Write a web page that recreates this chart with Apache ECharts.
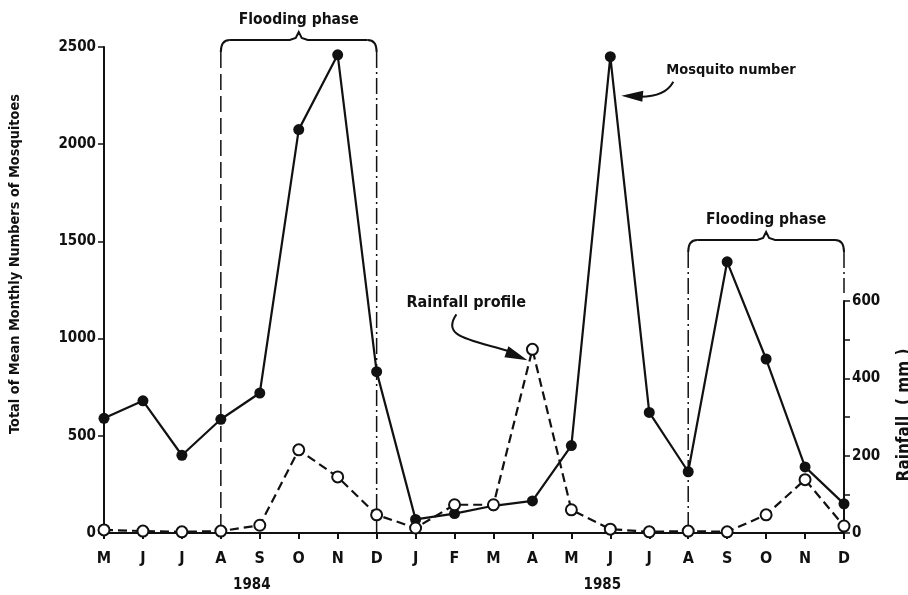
<!DOCTYPE html>
<html>
<head>
<meta charset="utf-8">
<script src="https://cdn.jsdelivr.net/npm/echarts@6/dist/echarts.min.js"></script>
<style>
  html, body { margin: 0; padding: 0; background: #fff; }
  #chart { width: 908px; height: 595px; }
</style>
</head>
<body>
<div id="chart"></div>
<script>
// months May 1984 .. Dec 1985
const months = ['M', 'J', 'J', 'A', 'S', 'O', 'N', 'D', 'J', 'F', 'M', 'A', 'M', 'J', 'J', 'A', 'S', 'O', 'N', 'D']
const mosquito = [590, 680, 400, 585, 720, 2075, 2460, 830, 70, 100, 140, 165, 450, 2450, 620, 315, 1395, 895, 340, 150]
const rainfall = [8, 5, 3, 5, 20, 215, 145, 47, 13, 73, 73, 475, 60, 10, 3, 5, 3, 47, 138, 18]
const years = [{ text: '1984', at: 4 }, { text: '1985', at: 13 }]
const floods = [[3, 7], [15, 19]]

const ink = '#111'
const font = '"DejaVu Sans Condensed", "DejaVu Sans", sans-serif'
const lbl = (size) => 'bold ' + size + 'px ' + font

const chart = echarts.init(document.getElementById('chart'))

const option = {
  animation: false,
  grid: [
    { left: 104, right: 64, top: 47, bottom: 62 },
    { left: 104, right: 64, top: 301, bottom: 62 }
  ],
  xAxis: [
    {
      type: 'category',
      gridIndex: 0,
      data: months,
      boundaryGap: false,
      axisLine: { lineStyle: { color: ink, width: 2 } },
      axisTick: { length: 6, lineStyle: { color: ink, width: 2 } },
      axisLabel: { color: ink, fontFamily: font, fontWeight: 'bold', fontSize: 16, margin: 18, interval: 0 }
    },
    { type: 'category', gridIndex: 1, data: months, boundaryGap: false, show: false }
  ],
  yAxis: [
    {
      type: 'value',
      gridIndex: 0,
      min: 0,
      max: 2500,
      interval: 500,
      axisLine: { show: true, lineStyle: { color: ink, width: 2 } },
      axisTick: { show: true, length: 6, lineStyle: { color: ink, width: 1.5 } },
      splitLine: { show: false },
      axisLabel: { color: ink, fontFamily: font, fontWeight: 'bold', fontSize: 15, margin: 8, formatter: v => String(v) }
    },
    {
      type: 'value',
      gridIndex: 1,
      position: 'right',
      min: 0,
      max: 600,
      interval: 200,
      axisLine: { show: true, lineStyle: { color: ink, width: 2 } },
      axisTick: { show: true, length: 6, lineStyle: { color: ink, width: 1.5 } },
      minorTick: { show: true, splitNumber: 2, length: 6, lineStyle: { color: ink, width: 1.5 } },
      splitLine: { show: false },
      axisLabel: { color: ink, fontFamily: font, fontWeight: 'bold', fontSize: 15, margin: 8, formatter: v => String(v) }
    }
  ],
  series: [
    {
      name: 'Mosquito number',
      type: 'line',
      xAxisIndex: 0,
      yAxisIndex: 0,
      data: mosquito,
      symbol: 'circle',
      symbolSize: 11,
      showAllSymbol: true,
      clip: false,
      lineStyle: { color: ink, width: 2.2 },
      itemStyle: { color: ink },
      z: 3
    },
    {
      name: 'Rainfall profile',
      type: 'line',
      xAxisIndex: 1,
      yAxisIndex: 1,
      data: rainfall,
      symbol: 'circle',
      symbolSize: 11,
      showAllSymbol: true,
      clip: false,
      lineStyle: { color: ink, width: 2.2, type: [9, 5] },
      itemStyle: { color: '#fff', borderColor: ink, borderWidth: 2 },
      z: 4
    }
  ]
}
chart.setOption(option)

// annotations placed from the axes' own scales
const px = i => chart.convertToPixel({ xAxisIndex: 0 }, i)
const py = v => chart.convertToPixel({ yAxisIndex: 0 }, v)
const pr = v => chart.convertToPixel({ yAxisIndex: 1 }, v)
const y0 = py(0)
const thin = { stroke: ink, lineWidth: 2, fill: null }
const g = []

function bracket(i1, i2, yb, leftDash, rightDash, rightEnd) {
  const x1 = px(i1), x2 = px(i2), xm = (x1 + x2) / 2
  g.push({ type: 'bezierCurve', shape: { x1: x1, y1: yb + 12, cpx1: x1, cpy1: yb, x2: x1 + 9, y2: yb }, style: thin })
  g.push({ type: 'bezierCurve', shape: { x1: x2 - 9, y1: yb, cpx1: x2, cpy1: yb, x2: x2, y2: yb + 12 }, style: thin })
  g.push({
    type: 'polyline',
    shape: { points: [[x1 + 9, yb], [xm - 9, yb], [xm - 3, yb - 2], [xm, yb - 8], [xm + 3, yb - 2], [xm + 9, yb], [x2 - 9, yb]] },
    style: thin
  })
  g.push({
    type: 'text', x: xm, y: yb - 20,
    style: { text: 'Flooding phase', fill: ink, font: lbl(15.5), textAlign: 'center', textVerticalAlign: 'middle' }
  })
  g.push({ type: 'line', shape: { x1: x1, y1: yb + 12, x2: x1, y2: y0 }, style: { stroke: ink, lineWidth: 1.5, lineDash: leftDash } })
  g.push({ type: 'line', shape: { x1: x2, y1: yb + 12, x2: x2, y2: rightEnd }, style: { stroke: ink, lineWidth: 1.5, lineDash: rightDash } })
}

bracket(floods[0][0], floods[0][1], py(2500) - 7, [16, 6], [16, 4, 2, 4], y0)
bracket(floods[1][0], floods[1][1], pr(600) - 61, [16, 4, 2, 4], [16, 4, 2, 4], pr(600) - 8)

// Mosquito number label + arrow
const mx = px(13), my = py(mosquito[13])
g.push({
  type: 'text', x: mx + 56, y: my + 14,
  style: { text: 'Mosquito number', fill: ink, font: lbl(14.5), textAlign: 'left', textVerticalAlign: 'middle' }
})
g.push({ type: 'bezierCurve', shape: { x1: mx + 63, y1: my + 25, cpx1: mx + 55, cpy1: my + 40, x2: mx + 30, y2: my + 40 }, style: thin })
g.push({ type: 'polygon', shape: { points: [[mx + 11, my + 39], [mx + 33, my + 34], [mx + 32, my + 45]] }, style: { fill: ink } })

// Rainfall profile label + arrow
const rx = px(11), ry = pr(rainfall[11])
g.push({
  type: 'text', x: rx - 126, y: ry - 46,
  style: { text: 'Rainfall profile', fill: ink, font: lbl(16), textAlign: 'left', textVerticalAlign: 'middle' }
})
g.push({ type: 'bezierCurve', shape: { x1: rx - 76, y1: ry - 35, cpx1: rx - 92, cpy1: ry - 12, cpx2: rx - 62, cpy2: ry - 10, x2: rx - 20, y2: ry + 3 }, style: thin })
g.push({ type: 'polygon', shape: { points: [[rx - 5, ry + 11], [rx - 24, ry - 3], [rx - 28, ry + 8]] }, style: { fill: ink } })

// year labels under the month row
years.forEach(yr => {
  g.push({
    type: 'text', x: px(yr.at) - 8, y: y0 + 52,
    style: { text: yr.text, fill: ink, font: lbl(15), textAlign: 'center', textVerticalAlign: 'middle' }
  })
})

// axis titles
g.push({
  type: 'text', x: 15, y: 264, rotation: Math.PI / 2,
  style: { text: 'Total of Mean Monthly Numbers of Mosquitoes', fill: ink, font: lbl(14.4), textAlign: 'center', textVerticalAlign: 'middle' }
})
g.push({
  type: 'text', x: 905, y: (pr(0) + pr(600)) / 2 - 2, rotation: Math.PI / 2,
  style: { text: 'Rainfall  ( mm )', fill: ink, font: lbl(17), textAlign: 'center', textVerticalAlign: 'middle' }
})

chart.setOption({ graphic: g })
</script>
</body>
</html>
